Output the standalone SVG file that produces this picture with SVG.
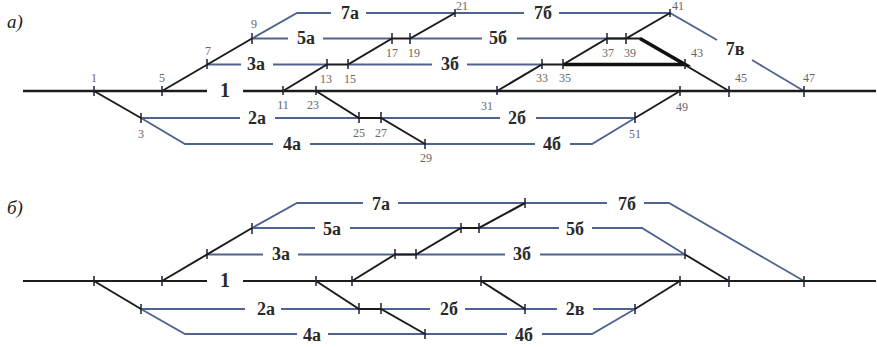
<svg xmlns="http://www.w3.org/2000/svg" width="877" height="347" viewBox="0 0 877 347">
<style>
.b{fill:none;stroke:#4f6390;stroke-width:1.8}
.k{fill:none;stroke:#1c1c1c;stroke-width:2}
.m{fill:none;stroke:#1c1c1c;stroke-width:2.4}
.h{fill:none;stroke:#111;stroke-width:3.6}
.t{fill:none;stroke:#1c2030;stroke-width:1.5}
text{font-family:"Liberation Serif",serif}
.l{font-size:18px;font-weight:bold;fill:#2a2a2a;text-anchor:middle}
.n{font-size:12px;fill:#666;text-anchor:middle}
.p{font-size:19px;font-style:italic;fill:#222}
</style>
<rect width="877" height="347" fill="#fff"/>
<g id="connectors">
<path class="b" d="M252 38.500L297 13H331M366 13H455M455 13H524M559 13H670L717 40M752 60L804 91M252 38.500H288M323 38.500H392M410 38.500H482M517 38.500H626M207 64.500H241M273 64.500H327M348 64.500H432M467 64.500H542M141 118H240M275 118H359M381 118H500M536 118H635M141 118L185 144H273M310 144H425M425 144H535M570 144H592L635 118"/>
<path class="m" d="M23 91H207M243 91H876"/>
<path class="k" d="M162 91L252 38.500M283 91L327 64.500H348L392 38.500H410L455 13M94 91L141 118M316 91L359 118H381L425 144M497 91L542 64.500H563L607 38.500H626L670 13M635 118L680 91M626 38.500H640L729 91"/>
<path class="h" d="M563 64.500H685L640 38.500"/>
<path class="t" d="M94 86V96M162 86V96M207 59V69M252 33V44M283 86V95M316 86V95M327 59V69M348 59V69M392 33V44M410 33V44M455 9V17M141 113V123M359 112V123M381 112V123M425 139V149M497 86V95M542 59V69M563 59V69M607 33V44M626 33V44M670 9V17M685 59V69M729 86V97M804 86V97M680 86V96M635 112V123"/>
<path class="b" d="M252 228L297 203H363M398 203H607M644 203H669L804 281M252 228H315M350 228H559M592 228H642L685 254.500M207 254.500H263M298 254.500H505M540 254.500H685M141 309H245M281 309H430M465 309H557M593 309H635M141 309L185 334H297M328 334H507M542 334H592L635 309"/>
<path class="k" d="M23 281H207M243 281H876"/>
<path class="k" d="M162 281L252 228M352 281L395 254.500H416L461 228H479L525 203M94 281L141 309M316 281L359 309H381L425 334M481 281L525 309M635 309L680 281M685 254.500L729 281"/>
<path class="t" d="M94 276V286M162 276V286M207 249V259M252 223V234M316 276V286M352 276V286M395 249V259M416 249V259M461 223V233M479 223V233M525 198V208M141 304V314M359 303V314M381 303V314M425 329V339M481 276V286M525 304V314M635 304V314M680 276V286M685 249V259M729 276V287M804 276V287"/>
</g>
<g id="labels-a">
<text class="p" x="7" y="28">а)</text>
<text class="l" x="350" y="19">7а</text>
<text class="l" x="543" y="19">7б</text>
<text class="l" x="735" y="55">7в</text>
<text class="l" x="306" y="44">5а</text>
<text class="l" x="498" y="44">5б</text>
<text class="l" x="256" y="70">3а</text>
<text class="l" x="450" y="70">3б</text>
<text class="l" x="225" y="97" style="font-size:20px">1</text>
<text class="l" x="257" y="124">2а</text>
<text class="l" x="517" y="124">2б</text>
<text class="l" x="292" y="150">4а</text>
<text class="l" x="552" y="150">4б</text>
</g>
<g id="numbers-a">
<text class="n" x="94" y="82">1</text><text class="n" x="141" y="138">3</text><text class="n" x="162" y="82">5</text><text class="n" x="208" y="55">7</text><text class="n" x="254" y="28">9</text>
<text class="n" x="283" y="109">11</text><text class="n" x="326" y="83">13</text><text class="n" x="350" y="83">15</text><text class="n" x="392" y="57">17</text><text class="n" x="414" y="57">19</text><text class="n" x="462" y="10">21</text>
<text class="n" x="313" y="109">23</text><text class="n" x="359" y="137">25</text><text class="n" x="381" y="137">27</text><text class="n" x="426" y="162">29</text>
<text class="n" x="487" y="110">31</text><text class="n" x="542" y="82">33</text><text class="n" x="565" y="82">35</text><text class="n" x="608" y="57">37</text><text class="n" x="630" y="57">39</text><text class="n" x="678" y="10">41</text>
<text class="n" x="697" y="57">43</text><text class="n" x="741" y="82">45</text><text class="n" x="809" y="82">47</text><text class="n" x="682" y="111">49</text><text class="n" x="635" y="138">51</text>
</g>
<g id="labels-b">
<text class="p" x="7" y="214">б)</text>
<text class="l" x="381" y="210">7а</text>
<text class="l" x="627" y="210">7б</text>
<text class="l" x="332" y="235">5а</text>
<text class="l" x="575" y="235">5б</text>
<text class="l" x="281" y="260">3а</text>
<text class="l" x="522" y="260">3б</text>
<text class="l" x="225" y="287" style="font-size:20px">1</text>
<text class="l" x="266" y="315">2а</text>
<text class="l" x="449" y="315">2б</text>
<text class="l" x="575" y="315">2в</text>
<text class="l" x="312" y="341">4а</text>
<text class="l" x="524" y="341">4б</text>
</g>
</svg>
